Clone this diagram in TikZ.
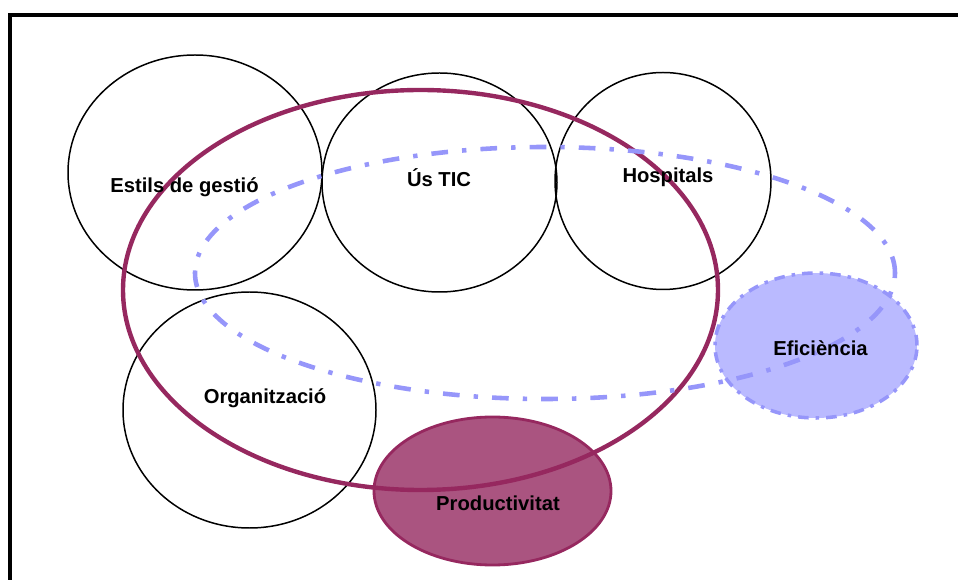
\documentclass[tikz,border=0pt]{standalone}
\usepackage{fontspec}
\setsansfont{Liberation Sans}
\usetikzlibrary{shapes.geometric}

\definecolor{wine}{RGB}{150,40,95}
\definecolor{winefill}{RGB}{170,84,128}
\definecolor{lilac}{RGB}{150,150,250}
\definecolor{lilacfill}{RGB}{186,186,255}

\begin{document}
\begin{tikzpicture}[font=\sffamily\bfseries\fontsize{11.5}{13}\selectfont,
    topic/.style={ellipse, draw=black, line width=0.85pt, inner sep=0pt},
    lbl/.style={anchor=base, inner sep=0pt}]

    \useasboundingbox (0,0) rectangle (19.16,11.6);

    % Frame (top and left edges)
    \draw[line width=2.3pt] (0.2,0) -- (0.2,11.3) -- (19.16,11.3);

    % Filled outcomes
    \node[ellipse, fill=winefill, draw=wine, line width=1.6pt, inner sep=0pt,
          minimum width=4.74cm, minimum height=2.96cm] (prod) at (9.85,1.78) {};
    \node[ellipse, fill=lilacfill, draw=lilac, line width=2pt, inner sep=0pt,
          dash pattern=on 6pt off 4pt on 2pt off 4pt,
          minimum width=4.04cm, minimum height=2.9cm] (efic) at (16.32,4.69) {};

    % Factors
    \node[topic, minimum width=5.08cm, minimum height=4.7cm] (estils) at (3.9,8.15) {};
    \node[topic, minimum width=4.7cm, minimum height=4.38cm] (tic) at (8.79,7.95) {};
    \node[topic, minimum width=4.32cm, minimum height=4.34cm] (hosp) at (13.26,7.98) {};
    \node[topic, minimum width=5.06cm, minimum height=4.72cm] (org) at (4.99,3.4) {};

    % Productivity and efficiency areas
    \node[ellipse, draw=wine, line width=2.5pt, inner sep=0pt,
          minimum width=11.9cm, minimum height=8cm] (prodarea) at (8.41,5.8) {};
    \node[ellipse, draw=lilac, line width=2.6pt, inner sep=0pt,
          dash pattern=on 9.5pt off 8pt on 2.5pt off 8pt,
          minimum width=14cm, minimum height=5.04cm] (eficarea) at (10.9,6.14) {};

    % Labels
    \node[lbl] (estils-txt) at (3.69,7.74) {Estils de gestió};
    \node[lbl] (tic-txt) at (8.78,7.86) {Ús TIC};
    \node[lbl] (hosp-txt) at (13.36,7.94) {Hospitals};
    \node[lbl] (org-txt) at (5.3,3.52) {Organització};
    \node[lbl] (efic-txt) at (16.41,4.48) {Eficiència};
    \node[lbl] (prod-txt) at (9.96,1.4) {Productivitat};

\end{tikzpicture}
\end{document}
